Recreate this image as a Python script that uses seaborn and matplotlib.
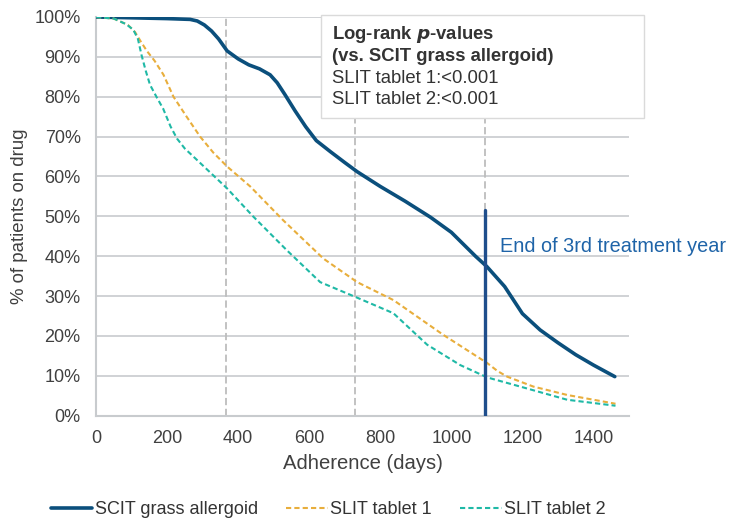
import numpy as np
import pandas as pd
import matplotlib
matplotlib.use("Agg")
import matplotlib.pyplot as plt
import seaborn as sns
from matplotlib.patches import Rectangle

# ==========================================
# Data
# ==========================================
scit_days = [0, 100, 200, 265, 285, 305, 325, 345, 369, 400, 430, 460, 490,
             510, 532, 560, 590, 620, 660, 700, 735, 800, 870, 941, 1000,
             1068, 1100, 1150, 1200, 1250, 1300, 1350, 1400, 1460]
scit_pct = [100, 99.8, 99.6, 99.4, 99.0, 98.0, 96.5, 94.5, 91.5, 89.5, 88.0,
            87.0, 85.5, 83.5, 80.5, 76.5, 72.5, 69.0, 66.2, 63.5, 61.2, 57.5,
            53.8, 49.8, 46.0, 40.0, 37.4, 32.4, 25.6, 21.5, 18.3, 15.3, 12.7, 9.8]

slit1_days = [0, 50, 90, 110, 125, 143, 165, 190, 218, 255, 293, 330, 369,
              434, 527, 640, 735, 837, 977, 1101, 1130, 1157, 1231, 1326, 1462]
slit1_pct = [100, 99.6, 98.0, 96.2, 94.0, 91.5, 89.0, 85.5, 80.0, 75.0, 70.0,
             66.0, 62.5, 57.5, 49.0, 39.4, 33.5, 29.0, 20.3, 13.2, 11.2, 9.8,
             7.3, 5.2, 3.0]

slit2_days = [0, 50, 85, 105, 118, 128, 140, 152, 170, 189, 210, 228, 250,
              274, 369, 442, 537, 631, 735, 837, 932, 1025, 1101, 1194, 1326, 1462]
slit2_pct = [100, 99.6, 98.2, 96.8, 94.5, 90.5, 86.5, 83.0, 80.0, 77.0, 72.5,
             69.5, 67.0, 65.0, 57.0, 50.0, 41.5, 33.5, 29.6, 25.7, 17.8, 12.7,
             9.6, 7.3, 4.0, 2.5]

series_names = ["SCIT grass allergoid", "SLIT tablet 1", "SLIT tablet 2"]
year_marks = [365, 730, 1095]
pvalue_lines = ["SLIT tablet 1:<0.001", "SLIT tablet 2:<0.001"]

df = pd.concat([
    pd.DataFrame({"days": scit_days, "pct": scit_pct, "group": series_names[0]}),
    pd.DataFrame({"days": slit1_days, "pct": slit1_pct, "group": series_names[1]}),
    pd.DataFrame({"days": slit2_days, "pct": slit2_pct, "group": series_names[2]}),
])

# ==========================================
# Plot
# ==========================================
sns.set_style("white")
plt.rcParams['font.family'] = ['Liberation Sans', 'DejaVu Sans']

fig = plt.figure(figsize=(7.29, 5.18), dpi=100)
ax = fig.add_axes([96 / 729, 1 - 415.7 / 518, (629 - 96) / 729, (415.7 - 17) / 518])

colors = {series_names[0]: "#0B4F7C", series_names[1]: "#E8AE3C", series_names[2]: "#1FB9A6"}
widths = {series_names[0]: 2.6, series_names[1]: 1.5, series_names[2]: 1.5}

for name in series_names:
    sub = df[df["group"] == name]
    sns.lineplot(data=sub, x="days", y="pct", ax=ax, color=colors[name],
                 lw=widths[name], label=name, zorder=4,
                 linestyle="-" if name == series_names[0] else (0, (2.5, 1.5)))

# horizontal grid
for yv in range(0, 101, 10):
    ax.axhline(yv, color="#C8CBCE", lw=1.2, zorder=1)

# year markers
for d in year_marks:
    ax.axvline(d, color="#BDBDBD", lw=1.3, ls=(0, (4, 2)), zorder=2)
ax.plot([year_marks[2], year_marks[2]], [0, 51.5], color="#1F4E8C", lw=2.4, zorder=5)
ax.text(1136, 42.4, "End of 3rd treatment year", color="#1F64A8", fontsize=14.3,
        va="center", ha="left", zorder=6)

ax.set_xlim(0, 1500)
ax.set_ylim(0, 100)
ax.set_xticks(range(0, 1401, 200))
ax.set_yticks(range(0, 101, 10))
ax.set_yticklabels([f"{v}%" for v in range(0, 101, 10)])
ax.tick_params(labelsize=13, colors="#404040", length=0)
ax.tick_params(axis="y", pad=11)
ax.tick_params(axis="x", pad=10)
for s in ["top", "right"]:
    ax.spines[s].set_visible(False)
for s in ["left", "bottom"]:
    ax.spines[s].set_color("#C8CBCE")
    ax.spines[s].set_linewidth(1.5)

ax.set_xlabel("Adherence (days)", fontsize=14.6, color="#404040", labelpad=5)
ax.set_ylabel("% of patients on drug", fontsize=13.4, color="#404040", labelpad=5)

# p-value box
box = Rectangle((634, 74.7), 907, 25.7, transform=ax.transData, facecolor="white",
                edgecolor="#DADADA", lw=1.0, zorder=7, clip_on=False)
ax.add_patch(box)
ax.text(665, 95.5, "Log-rank $\\boldsymbol{p}$-values", fontsize=13.3, fontweight="bold",
        color="#333333", va="center", zorder=8)
ax.text(665, 90.0, "(vs. SCIT grass allergoid)", fontsize=13.3, fontweight="bold",
        color="#333333", va="center", zorder=8)
ax.text(665, 84.6, pvalue_lines[0], fontsize=13.3, color="#333333", va="center", zorder=8)
ax.text(665, 79.2, pvalue_lines[1], fontsize=13.3, color="#333333", va="center", zorder=8)

leg = ax.legend(loc="center left", bbox_to_anchor=(-0.088, -0.236), ncol=3, frameon=False,
                fontsize=13, handlelength=2.3, handletextpad=0.15, columnspacing=1.55,
                borderaxespad=0, borderpad=0.1)
for t in leg.get_texts():
    t.set_color("#333333")

fig.savefig("out.png", dpi=100)
